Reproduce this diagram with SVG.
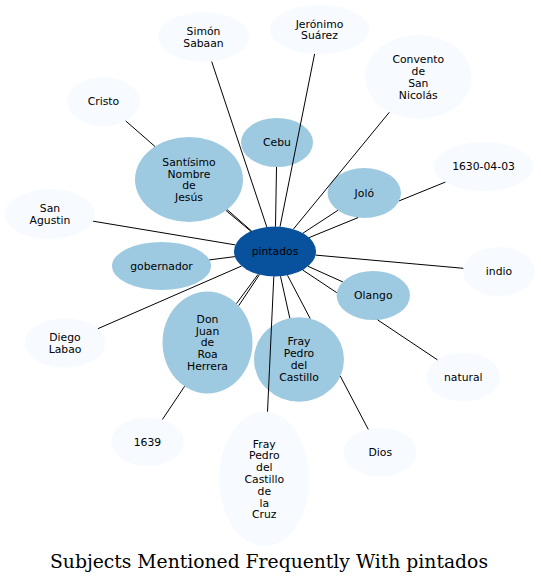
<svg xmlns="http://www.w3.org/2000/svg" width="541" height="582" viewBox="0 0 541 582">
<style>
.hub{fill:#08519c}
.mid{fill:#9ecae1}
.lite{fill:#f7fbff}
.lbl{font-family:"DejaVu Sans",Verdana,sans-serif;font-size:10.8px;fill:#000;text-anchor:middle}
.edges path{stroke:#000;stroke-width:1;fill:none}
.title{font-family:"DejaVu Serif","Liberation Serif",serif;font-size:18px;fill:#000;text-anchor:middle}
</style>
<rect x="0" y="0" width="541" height="582" fill="#ffffff"/>
<g id="nodes">
<g id="node-pintados"><ellipse class="hub" cx="275" cy="251.5" rx="41" ry="25"/><text class="lbl" x="275" y="255.4">pintados</text></g>
<g id="node-cebu"><ellipse class="mid" cx="277" cy="142.5" rx="36" ry="24.5"/><text class="lbl" x="277" y="146.4">Cebu</text></g>
<g id="node-santisimo"><ellipse class="mid" cx="189" cy="179.5" rx="54" ry="42.5"/><text class="lbl"><tspan x="189" y="165.7">Santísimo</tspan><tspan x="189" y="177.5">Nombre</tspan><tspan x="189" y="189.3">de</tspan><tspan x="189" y="201.1">Jesús</tspan></text></g>
<g id="node-simon"><ellipse class="lite" cx="203.5" cy="37" rx="45.5" ry="25"/><text class="lbl"><tspan x="203.5" y="35">Simón</tspan><tspan x="203.5" y="46.8">Sabaan</tspan></text></g>
<g id="node-cristo"><ellipse class="lite" cx="103.5" cy="101.5" rx="36.5" ry="24.5"/><text class="lbl" x="103.5" y="105.4">Cristo</text></g>
<g id="node-sanagustin"><ellipse class="lite" cx="50" cy="214" rx="45" ry="25"/><text class="lbl"><tspan x="50" y="212">San</tspan><tspan x="50" y="223.8">Agustin</tspan></text></g>
<g id="node-gobernador"><ellipse class="mid" cx="161.5" cy="266" rx="49.5" ry="24"/><text class="lbl" x="161.5" y="269.9">gobernador</text></g>
<g id="node-jeronimo"><ellipse class="lite" cx="319.5" cy="29.5" rx="49.5" ry="24.5"/><text class="lbl"><tspan x="319.5" y="27.5">Jerónimo</tspan><tspan x="319.5" y="39.3">Suárez</tspan></text></g>
<g id="node-convento"><ellipse class="lite" cx="418.3" cy="77" rx="53.3" ry="42"/><text class="lbl"><tspan x="418.3" y="63.2">Convento</tspan><tspan x="418.3" y="75">de</tspan><tspan x="418.3" y="86.8">San</tspan><tspan x="418.3" y="98.6">Nicolás</tspan></text></g>
<g id="node-1630"><ellipse class="lite" cx="483.5" cy="166.5" rx="49.5" ry="24.5"/><text class="lbl" x="483.5" y="170.4">1630-04-03</text></g>
<g id="node-jolo"><ellipse class="mid" cx="364.3" cy="193" rx="36.7" ry="25"/><text class="lbl" x="364.3" y="196.9">Joló</text></g>
<g id="node-indio"><ellipse class="lite" cx="499" cy="271.5" rx="36" ry="24.5"/><text class="lbl" x="499" y="275.4">indio</text></g>
<g id="node-olango"><ellipse class="mid" cx="373.3" cy="295.5" rx="36.7" ry="24.5"/><text class="lbl" x="373.3" y="299.4">Olango</text></g>
<g id="node-donjuan"><ellipse class="mid" cx="207.5" cy="342.5" rx="45" ry="51"/><text class="lbl"><tspan x="207.5" y="322.8">Don</tspan><tspan x="207.5" y="334.6">Juan</tspan><tspan x="207.5" y="346.4">de</tspan><tspan x="207.5" y="358.2">Roa</tspan><tspan x="207.5" y="370">Herrera</tspan></text></g>
<g id="node-diego"><ellipse class="lite" cx="65" cy="343" rx="40.3" ry="24.7"/><text class="lbl"><tspan x="65" y="341">Diego</tspan><tspan x="65" y="352.8">Labao</tspan></text></g>
<g id="node-1639"><ellipse class="lite" cx="147.5" cy="441.7" rx="36.5" ry="24.3"/><text class="lbl" x="147.5" y="445.6">1639</text></g>
<g id="node-cruz"><ellipse class="lite" cx="264.3" cy="479" rx="45" ry="67.5"/><text class="lbl"><tspan x="264.3" y="447.5">Fray</tspan><tspan x="264.3" y="459.3">Pedro</tspan><tspan x="264.3" y="471.1">del</tspan><tspan x="264.3" y="482.9">Castillo</tspan><tspan x="264.3" y="494.7">de</tspan><tspan x="264.3" y="506.5">la</tspan><tspan x="264.3" y="518.3">Cruz</tspan></text></g>
<g id="node-castillo"><ellipse class="mid" cx="299" cy="359.5" rx="45" ry="42.2"/><text class="lbl"><tspan x="299" y="345.2">Fray</tspan><tspan x="299" y="357">Pedro</tspan><tspan x="299" y="368.8">del</tspan><tspan x="299" y="380.6">Castillo</tspan></text></g>
<g id="node-natural"><ellipse class="lite" cx="463.3" cy="377" rx="36.7" ry="24.3"/><text class="lbl" x="463.3" y="380.9">natural</text></g>
<g id="node-dios"><ellipse class="lite" cx="380.3" cy="452.3" rx="36.3" ry="24.3"/><text class="lbl" x="380.3" y="456.2">Dios</text></g>
</g>
<g id="connectors" class="edges">
<path id="e-simon" d="M266.8,227 L211.7,61.6"/>
<path id="e-jeronimo" d="M280,226.7 L314.6,53.9"/>
<path id="e-cebu" d="M275.5,226.5 L276.5,167"/>
<path id="e-convento" d="M293.4,229.1 L389.3,112.3"/>
<path id="e-jolo" d="M302.9,233.2 L337.9,210.3"/>
<path id="e-1630" d="M309.1,237.6 L358.1,217.6 M399.1,200.9 L445.3,182.1"/>
<path id="e-indio" d="M315.6,255.1 L463.3,268.3"/>
<path id="e-olango" d="M308,266.3 L342.8,281.9"/>
<path id="e-natural" d="M302.7,270 L336.8,292.7 M377.5,319.8 L437.4,359.8"/>
<path id="e-dios" d="M287.5,275.3 L310.2,318.6 M340.3,376.1 L368.3,429.4"/>
<path id="e-castillo" d="M280.5,276.3 L289.8,318.2"/>
<path id="e-cruz" d="M273.8,276.5 L267.5,411.7"/>
<path id="e-donjuan" d="M258.1,274.3 L236.5,303.5"/>
<path id="e-1639" d="M259.5,274.6 L238.7,305.7 M184.6,386.3 L162.4,419.5"/>
<path id="e-diego" d="M241.6,266 L97.9,328.7"/>
<path id="e-sanagustin" d="M235.4,244.9 L93.1,221.2"/>
<path id="e-gobernador" d="M234.9,256.6 L209.4,259.9"/>
<path id="e-santisimo" d="M250.9,231.3 L226,210.5"/>
<path id="e-cristo" d="M251.6,231 L227.1,209.6 M155,146.5 L125.7,120.9"/>
</g>
<text class="title" x="269" y="568" textLength="438" lengthAdjust="spacingAndGlyphs">Subjects Mentioned Frequently With pintados</text>
</svg>
